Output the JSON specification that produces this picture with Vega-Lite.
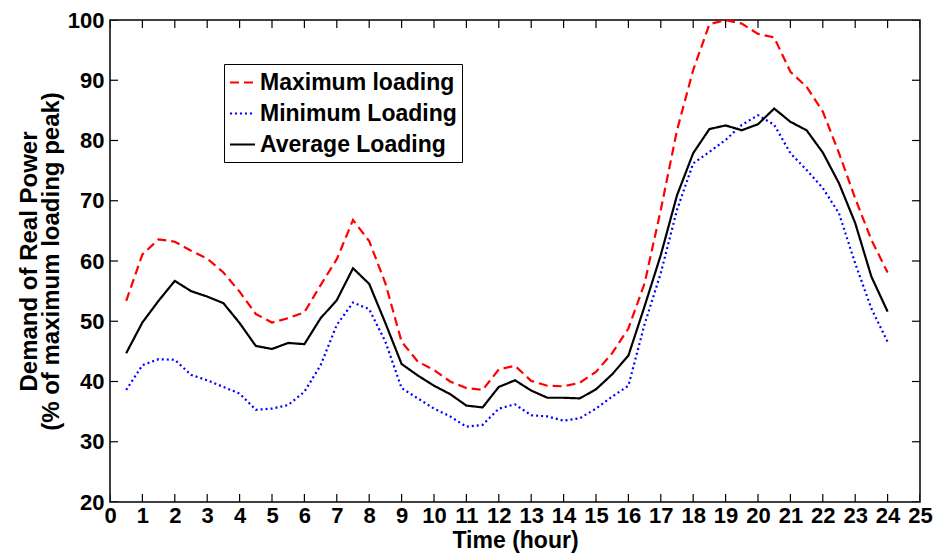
{
  "$schema": "https://vega.github.io/schema/vega-lite/v6.json",
  "width": 810,
  "height": 482,
  "autosize": {"type": "none"},
  "padding": {"left": 110, "top": 20, "right": 18, "bottom": 54},
  "background": "white",
  "config": {
    "view": {"stroke": "black", "strokeWidth": 1.5},
    "font": "Liberation Sans",
    "axis": {
      "grid": false,
      "domain": false,
      "ticks": false,
      "labelFont": "Liberation Sans",
      "labelFontWeight": "bold",
      "labelFontSize": 22,
      "labelColor": "black",
      "titleFont": "Liberation Sans",
      "titleFontWeight": "bold",
      "titleColor": "black"
    }
  },
  "layer": [
    {
      "data": {
        "values": [
          {"hour": 0.5, "series": "Maximum loading", "pct": 53.4},
          {"hour": 1, "series": "Maximum loading", "pct": 61.1},
          {"hour": 1.5, "series": "Maximum loading", "pct": 63.6},
          {"hour": 2, "series": "Maximum loading", "pct": 63.2},
          {"hour": 2.5, "series": "Maximum loading", "pct": 61.7},
          {"hour": 3, "series": "Maximum loading", "pct": 60.4},
          {"hour": 3.5, "series": "Maximum loading", "pct": 58.1},
          {"hour": 4, "series": "Maximum loading", "pct": 54.9},
          {"hour": 4.5, "series": "Maximum loading", "pct": 51.2},
          {"hour": 5, "series": "Maximum loading", "pct": 49.8},
          {"hour": 5.5, "series": "Maximum loading", "pct": 50.5},
          {"hour": 6, "series": "Maximum loading", "pct": 51.5},
          {"hour": 6.5, "series": "Maximum loading", "pct": 56.0},
          {"hour": 7, "series": "Maximum loading", "pct": 60.3},
          {"hour": 7.5, "series": "Maximum loading", "pct": 66.8},
          {"hour": 8, "series": "Maximum loading", "pct": 63.3},
          {"hour": 8.5, "series": "Maximum loading", "pct": 56.3},
          {"hour": 9, "series": "Maximum loading", "pct": 46.6},
          {"hour": 9.5, "series": "Maximum loading", "pct": 43.3},
          {"hour": 10, "series": "Maximum loading", "pct": 41.9},
          {"hour": 10.5, "series": "Maximum loading", "pct": 40.0},
          {"hour": 11, "series": "Maximum loading", "pct": 38.9},
          {"hour": 11.5, "series": "Maximum loading", "pct": 38.6},
          {"hour": 12, "series": "Maximum loading", "pct": 42.0},
          {"hour": 12.5, "series": "Maximum loading", "pct": 42.6},
          {"hour": 13, "series": "Maximum loading", "pct": 40.1},
          {"hour": 13.5, "series": "Maximum loading", "pct": 39.3},
          {"hour": 14, "series": "Maximum loading", "pct": 39.2},
          {"hour": 14.5, "series": "Maximum loading", "pct": 39.8},
          {"hour": 15, "series": "Maximum loading", "pct": 41.6},
          {"hour": 15.5, "series": "Maximum loading", "pct": 44.7},
          {"hour": 16, "series": "Maximum loading", "pct": 48.8},
          {"hour": 16.5, "series": "Maximum loading", "pct": 56.3},
          {"hour": 17, "series": "Maximum loading", "pct": 68.5},
          {"hour": 17.5, "series": "Maximum loading", "pct": 81.7},
          {"hour": 18, "series": "Maximum loading", "pct": 91.7},
          {"hour": 18.5, "series": "Maximum loading", "pct": 99.3},
          {"hour": 19, "series": "Maximum loading", "pct": 100.0},
          {"hour": 19.5, "series": "Maximum loading", "pct": 99.4},
          {"hour": 20, "series": "Maximum loading", "pct": 97.7},
          {"hour": 20.5, "series": "Maximum loading", "pct": 97.1},
          {"hour": 21, "series": "Maximum loading", "pct": 91.4},
          {"hour": 21.5, "series": "Maximum loading", "pct": 88.9},
          {"hour": 22, "series": "Maximum loading", "pct": 84.8},
          {"hour": 22.5, "series": "Maximum loading", "pct": 77.9},
          {"hour": 23, "series": "Maximum loading", "pct": 70.4},
          {"hour": 23.5, "series": "Maximum loading", "pct": 63.5},
          {"hour": 24, "series": "Maximum loading", "pct": 58.1},

          {"hour": 0.5, "series": "Minimum Loading", "pct": 38.6},
          {"hour": 1, "series": "Minimum Loading", "pct": 42.7},
          {"hour": 1.5, "series": "Minimum Loading", "pct": 43.7},
          {"hour": 2, "series": "Minimum Loading", "pct": 43.6},
          {"hour": 2.5, "series": "Minimum Loading", "pct": 41.1},
          {"hour": 3, "series": "Minimum Loading", "pct": 40.2},
          {"hour": 3.5, "series": "Minimum Loading", "pct": 39.1},
          {"hour": 4, "series": "Minimum Loading", "pct": 38.0},
          {"hour": 4.5, "series": "Minimum Loading", "pct": 35.3},
          {"hour": 5, "series": "Minimum Loading", "pct": 35.5},
          {"hour": 5.5, "series": "Minimum Loading", "pct": 36.1},
          {"hour": 6, "series": "Minimum Loading", "pct": 38.3},
          {"hour": 6.5, "series": "Minimum Loading", "pct": 42.7},
          {"hour": 7, "series": "Minimum Loading", "pct": 49.4},
          {"hour": 7.5, "series": "Minimum Loading", "pct": 53.1},
          {"hour": 8, "series": "Minimum Loading", "pct": 52.0},
          {"hour": 8.5, "series": "Minimum Loading", "pct": 46.6},
          {"hour": 9, "series": "Minimum Loading", "pct": 38.9},
          {"hour": 9.5, "series": "Minimum Loading", "pct": 37.2},
          {"hour": 10, "series": "Minimum Loading", "pct": 35.5},
          {"hour": 10.5, "series": "Minimum Loading", "pct": 34.2},
          {"hour": 11, "series": "Minimum Loading", "pct": 32.5},
          {"hour": 11.5, "series": "Minimum Loading", "pct": 32.8},
          {"hour": 12, "series": "Minimum Loading", "pct": 35.5},
          {"hour": 12.5, "series": "Minimum Loading", "pct": 36.2},
          {"hour": 13, "series": "Minimum Loading", "pct": 34.4},
          {"hour": 13.5, "series": "Minimum Loading", "pct": 34.2},
          {"hour": 14, "series": "Minimum Loading", "pct": 33.5},
          {"hour": 14.5, "series": "Minimum Loading", "pct": 33.9},
          {"hour": 15, "series": "Minimum Loading", "pct": 35.5},
          {"hour": 15.5, "series": "Minimum Loading", "pct": 37.5},
          {"hour": 16, "series": "Minimum Loading", "pct": 39.3},
          {"hour": 16.5, "series": "Minimum Loading", "pct": 49.5},
          {"hour": 17, "series": "Minimum Loading", "pct": 58.0},
          {"hour": 17.5, "series": "Minimum Loading", "pct": 68.5},
          {"hour": 18, "series": "Minimum Loading", "pct": 76.2},
          {"hour": 18.5, "series": "Minimum Loading", "pct": 78.1},
          {"hour": 19, "series": "Minimum Loading", "pct": 80.1},
          {"hour": 19.5, "series": "Minimum Loading", "pct": 82.6},
          {"hour": 20, "series": "Minimum Loading", "pct": 84.2},
          {"hour": 20.5, "series": "Minimum Loading", "pct": 82.6},
          {"hour": 21, "series": "Minimum Loading", "pct": 77.9},
          {"hour": 21.5, "series": "Minimum Loading", "pct": 75.1},
          {"hour": 22, "series": "Minimum Loading", "pct": 72.1},
          {"hour": 22.5, "series": "Minimum Loading", "pct": 67.9},
          {"hour": 23, "series": "Minimum Loading", "pct": 59.6},
          {"hour": 23.5, "series": "Minimum Loading", "pct": 52.1},
          {"hour": 24, "series": "Minimum Loading", "pct": 46.6},

          {"hour": 0.5, "series": "Average Loading", "pct": 44.7},
          {"hour": 1, "series": "Average Loading", "pct": 49.8},
          {"hour": 1.5, "series": "Average Loading", "pct": 53.4},
          {"hour": 2, "series": "Average Loading", "pct": 56.7},
          {"hour": 2.5, "series": "Average Loading", "pct": 55.0},
          {"hour": 3, "series": "Average Loading", "pct": 54.1},
          {"hour": 3.5, "series": "Average Loading", "pct": 53.0},
          {"hour": 4, "series": "Average Loading", "pct": 49.7},
          {"hour": 4.5, "series": "Average Loading", "pct": 45.9},
          {"hour": 5, "series": "Average Loading", "pct": 45.4},
          {"hour": 5.5, "series": "Average Loading", "pct": 46.4},
          {"hour": 6, "series": "Average Loading", "pct": 46.2},
          {"hour": 6.5, "series": "Average Loading", "pct": 50.5},
          {"hour": 7, "series": "Average Loading", "pct": 53.5},
          {"hour": 7.5, "series": "Average Loading", "pct": 58.8},
          {"hour": 8, "series": "Average Loading", "pct": 56.2},
          {"hour": 8.5, "series": "Average Loading", "pct": 49.7},
          {"hour": 9, "series": "Average Loading", "pct": 42.9},
          {"hour": 9.5, "series": "Average Loading", "pct": 41.0},
          {"hour": 10, "series": "Average Loading", "pct": 39.3},
          {"hour": 10.5, "series": "Average Loading", "pct": 37.9},
          {"hour": 11, "series": "Average Loading", "pct": 36.0},
          {"hour": 11.5, "series": "Average Loading", "pct": 35.7},
          {"hour": 12, "series": "Average Loading", "pct": 39.1},
          {"hour": 12.5, "series": "Average Loading", "pct": 40.2},
          {"hour": 13, "series": "Average Loading", "pct": 38.5},
          {"hour": 13.5, "series": "Average Loading", "pct": 37.3},
          {"hour": 14, "series": "Average Loading", "pct": 37.3},
          {"hour": 14.5, "series": "Average Loading", "pct": 37.2},
          {"hour": 15, "series": "Average Loading", "pct": 38.7},
          {"hour": 15.5, "series": "Average Loading", "pct": 41.2},
          {"hour": 16, "series": "Average Loading", "pct": 44.3},
          {"hour": 16.5, "series": "Average Loading", "pct": 52.5},
          {"hour": 17, "series": "Average Loading", "pct": 61.0},
          {"hour": 17.5, "series": "Average Loading", "pct": 70.9},
          {"hour": 18, "series": "Average Loading", "pct": 77.9},
          {"hour": 18.5, "series": "Average Loading", "pct": 81.9},
          {"hour": 19, "series": "Average Loading", "pct": 82.5},
          {"hour": 19.5, "series": "Average Loading", "pct": 81.7},
          {"hour": 20, "series": "Average Loading", "pct": 82.7},
          {"hour": 20.5, "series": "Average Loading", "pct": 85.3},
          {"hour": 21, "series": "Average Loading", "pct": 83.1},
          {"hour": 21.5, "series": "Average Loading", "pct": 81.7},
          {"hour": 22, "series": "Average Loading", "pct": 78.0},
          {"hour": 22.5, "series": "Average Loading", "pct": 72.9},
          {"hour": 23, "series": "Average Loading", "pct": 66.3},
          {"hour": 23.5, "series": "Average Loading", "pct": 57.4},
          {"hour": 24, "series": "Average Loading", "pct": 51.6}
        ]
      },
      "mark": {"type": "line", "strokeWidth": 2.2},
      "encoding": {
        "x": {
          "field": "hour",
          "type": "quantitative",
          "scale": {"domain": [0, 25], "nice": false, "zero": false},
          "axis": {
            "orient": "bottom",
            "tickCount": 25,
            "labelFlush": false,
            "labelOverlap": false,
            "labelPadding": 3,
            "title": "Time (hour)",
            "titleFontSize": 23,
            "titlePadding": 3
          }
        },
        "y": {
          "field": "pct",
          "type": "quantitative",
          "scale": {"domain": [20, 100], "nice": false, "zero": false},
          "axis": {
            "orient": "left",
            "tickCount": 8,
            "labelFlush": false,
            "labelOverlap": false,
            "labelPadding": 6,
            "title": ["Demand of Real Power", "(% of maximum loading peak)"],
            "titleFontSize": 24,
            "titleLineHeight": 22,
            "titlePadding": 4
          }
        },
        "color": {
          "field": "series",
          "type": "nominal",
          "scale": {
            "domain": ["Maximum loading", "Minimum Loading", "Average Loading"],
            "range": ["#ff0000", "#0000ff", "#000000"]
          },
          "legend": {
            "title": null,
            "orient": "none",
            "legendX": 114,
            "legendY": 44,
            "direction": "vertical",
            "strokeColor": "black",
            "fillColor": "white",
            "padding": 5,
            "symbolType": "stroke",
            "symbolSize": 625,
            "symbolStrokeWidth": 2,
            "labelFont": "Liberation Sans",
            "labelFontSize": 23,
            "labelFontWeight": "bold",
            "labelColor": "black",
            "labelOffset": 4,
            "labelLimit": 400,
            "rowPadding": 5
          }
        },
        "strokeDash": {
          "field": "series",
          "type": "nominal",
          "scale": {
            "domain": ["Maximum loading", "Minimum Loading", "Average Loading"],
            "range": [[9, 5], [2, 3], [1, 0]]
          },
          "legend": null
        }
      }
    },
    {
      "data": {
        "values": [
          {"hour": 0}, {"hour": 1}, {"hour": 2}, {"hour": 3}, {"hour": 4}, {"hour": 5},
          {"hour": 6}, {"hour": 7}, {"hour": 8}, {"hour": 9}, {"hour": 10}, {"hour": 11},
          {"hour": 12}, {"hour": 13}, {"hour": 14}, {"hour": 15}, {"hour": 16}, {"hour": 17},
          {"hour": 18}, {"hour": 19}, {"hour": 20}, {"hour": 21}, {"hour": 22}, {"hour": 23},
          {"hour": 24}, {"hour": 25}
        ]
      },
      "layer": [
        {
          "mark": {"type": "tick", "orient": "vertical", "size": 16, "thickness": 1.2, "color": "black", "opacity": 1, "clip": true},
          "encoding": {
            "x": {"field": "hour", "type": "quantitative"},
            "y": {"datum": 20, "type": "quantitative"}
          }
        },
        {
          "mark": {"type": "tick", "orient": "vertical", "size": 16, "thickness": 1.2, "color": "black", "opacity": 1, "clip": true},
          "encoding": {
            "x": {"field": "hour", "type": "quantitative"},
            "y": {"datum": 100, "type": "quantitative"}
          }
        }
      ]
    },
    {
      "data": {
        "values": [
          {"pct": 20}, {"pct": 30}, {"pct": 40}, {"pct": 50}, {"pct": 60},
          {"pct": 70}, {"pct": 80}, {"pct": 90}, {"pct": 100}
        ]
      },
      "layer": [
        {
          "mark": {"type": "tick", "orient": "horizontal", "size": 16, "thickness": 1.2, "color": "black", "opacity": 1, "clip": true},
          "encoding": {
            "y": {"field": "pct", "type": "quantitative"},
            "x": {"datum": 0, "type": "quantitative"}
          }
        },
        {
          "mark": {"type": "tick", "orient": "horizontal", "size": 16, "thickness": 1.2, "color": "black", "opacity": 1, "clip": true},
          "encoding": {
            "y": {"field": "pct", "type": "quantitative"},
            "x": {"datum": 25, "type": "quantitative"}
          }
        }
      ]
    }
  ]
}
